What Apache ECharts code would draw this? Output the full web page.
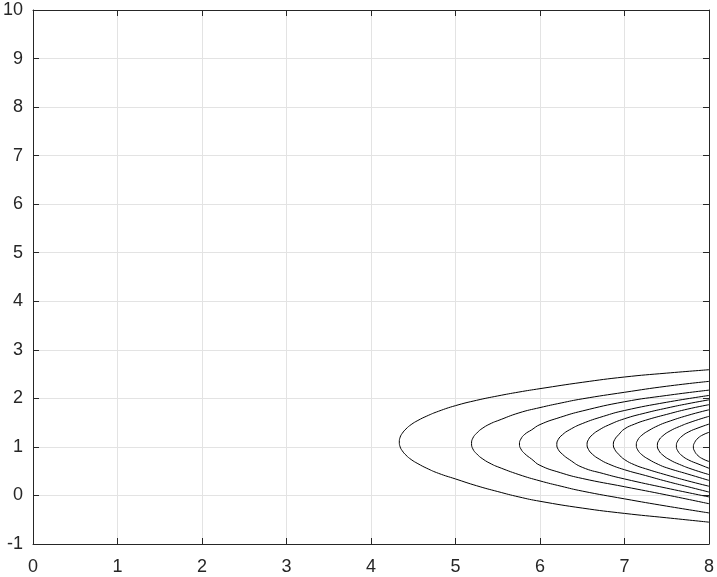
<!DOCTYPE html>
<html>
<head>
<meta charset="utf-8">
<script src="https://cdn.jsdelivr.net/npm/echarts@6/dist/echarts.min.js"></script>
<style>
html,body{margin:0;padding:0;background:#fff;}
#chart{width:717px;height:577px;}
</style>
</head>
<body>
<div id="chart"></div>
<script>
// Axis ranges / ticks
var xTicks = [0, 1, 2, 3, 4, 5, 6, 7, 8];
var yTicks = [-1, 0, 1, 2, 3, 4, 5, 6, 7, 8, 9, 10];

// Contour lines (outer to inner), traced top-right -> vertex -> bottom-right
var contour1 = [[8,2.59],[7.5,2.52],[7,2.44],[6.5,2.33],[6,2.20],[5.75,2.13],[5.5,2.05],[5.25,1.96],[5,1.85],[4.8,1.735],[4.66,1.635],[4.555,1.545],[4.475,1.46],[4.414,1.37],[4.37,1.28],[4.345,1.20],[4.335,1.10],[4.345,1.00],[4.37,0.92],[4.414,0.83],[4.475,0.74],[4.555,0.655],[4.66,0.56],[4.8,0.455],[5,0.34],[5.25,0.20],[5.5,0.08],[5.75,-0.03],[6,-0.12],[6.5,-0.26],[7,-0.37],[7.5,-0.46],[8,-0.55]];
var contour2 = [[8,2.35],[7.5,2.25],[7,2.125],[6.5,1.99],[6.25,1.905],[6,1.81],[5.75,1.70],[5.5,1.54],[5.428,1.49],[5.324,1.39],[5.249,1.28],[5.205,1.18],[5.19,1.07],[5.205,0.96],[5.249,0.86],[5.324,0.75],[5.428,0.645],[5.5,0.59],[5.75,0.43],[6,0.30],[6.25,0.19],[6.5,0.09],[7,-0.07],[7.5,-0.22],[8,-0.36]];
var contour3 = [[8,2.17],[7.5,2.06],[7,1.93],[6.5,1.74],[6.24,1.61],[6,1.46],[5.9,1.35],[5.82,1.26],[5.773,1.16],[5.757,1.06],[5.773,0.96],[5.82,0.86],[5.9,0.75],[6,0.62],[6.24,0.47],[6.5,0.35],[7,0.18],[7.5,0.01],[8,-0.17]];
var contour4 = [[8,2.06],[7.5,1.92],[7,1.75],[6.75,1.63],[6.5,1.48],[6.347,1.35],[6.265,1.25],[6.215,1.15],[6.199,1.05],[6.215,0.95],[6.265,0.85],[6.347,0.74],[6.5,0.58],[6.75,0.45],[7,0.34],[7.5,0.15],[8,-0.03]];
var contour5 = [[8,1.97],[7.75,1.89],[7.5,1.80],[7.25,1.70],[7,1.58],[6.81,1.45],[6.70,1.35],[6.62,1.25],[6.573,1.15],[6.557,1.05],[6.573,0.95],[6.62,0.85],[6.70,0.75],[6.81,0.65],[7,0.53],[7.25,0.41],[7.5,0.29],[7.75,0.18],[8,0.07]];
var contour6 = [[8,1.87],[7.75,1.78],[7.5,1.67],[7.25,1.55],[7.12,1.47],[7,1.37],[6.93,1.25],[6.884,1.15],[6.868,1.05],[6.884,0.95],[6.93,0.85],[7,0.74],[7.12,0.63],[7.25,0.55],[7.5,0.42],[7.75,0.30],[8,0.19]];
var contour7 = [[8,1.765],[7.75,1.65],[7.5,1.51],[7.4,1.44],[7.29,1.34],[7.205,1.24],[7.156,1.14],[7.14,1.04],[7.156,0.94],[7.205,0.84],[7.29,0.74],[7.4,0.64],[7.5,0.57],[7.75,0.44],[8,0.31]];
var contour8 = [[8,1.63],[7.8,1.52],[7.65,1.42],[7.54,1.33],[7.455,1.23],[7.405,1.13],[7.389,1.03],[7.405,0.93],[7.455,0.83],[7.54,0.73],[7.65,0.64],[7.8,0.54],[8,0.43]];
var contour9 = [[8,1.47],[7.87,1.39],[7.76,1.31],[7.68,1.22],[7.63,1.12],[7.614,1.02],[7.63,0.92],[7.68,0.82],[7.76,0.73],[7.87,0.65],[8,0.56]];
var contour10 = [[8,1.30],[7.93,1.25],[7.87,1.18],[7.83,1.09],[7.815,1.0],[7.83,0.91],[7.87,0.82],[7.93,0.75],[8,0.70]];

var contours = [contour1, contour2, contour3, contour4, contour5, contour6, contour7, contour8, contour9, contour10];

var chart = echarts.init(document.getElementById('chart'), null, {renderer: 'canvas'});
var axisColor = '#262626';
var gridColor = '#e3e3e3';
var labelFont = {color: axisColor, fontSize: 18, fontFamily: 'Liberation Sans, Arial, sans-serif'};

var series = contours.map(function (c) {
  return {
    type: 'line',
    data: c,
    xAxisIndex: 0,
    yAxisIndex: 0,
    showSymbol: false,
    symbol: 'none',
    smooth: 0.5,
    lineStyle: {color: '#000', width: 1},
    silent: true,
    z: 3
  };
});

chart.setOption({
  animation: false,
  grid: {left: 33, right: 8, top: 10, bottom: 33, containLabel: false},
  xAxis: [{
    type: 'value', min: xTicks[0], max: xTicks[xTicks.length - 1], interval: 1,
    axisLine: {show: true, onZero: false, lineStyle: {color: axisColor, width: 1}},
    axisTick: {show: true, inside: true, length: 6, lineStyle: {color: axisColor}},
    axisLabel: Object.assign({margin: 14}, labelFont),
    splitLine: {show: true, lineStyle: {color: gridColor, width: 1}}
  }, {
    type: 'value', position: 'top', min: xTicks[0], max: xTicks[xTicks.length - 1], interval: 1,
    axisLine: {show: true, onZero: false, lineStyle: {color: axisColor, width: 1}},
    axisTick: {show: true, inside: true, length: 6, lineStyle: {color: axisColor}},
    axisLabel: {show: false},
    splitLine: {show: false}
  }],
  yAxis: [{
    type: 'value', min: yTicks[0], max: yTicks[yTicks.length - 1], interval: 1,
    axisLine: {show: true, onZero: false, lineStyle: {color: axisColor, width: 1}},
    axisTick: {show: true, inside: true, length: 6, lineStyle: {color: axisColor}},
    axisLabel: Object.assign({margin: 10}, labelFont),
    splitLine: {show: true, lineStyle: {color: gridColor, width: 1}}
  }, {
    type: 'value', position: 'right', min: yTicks[0], max: yTicks[yTicks.length - 1], interval: 1,
    axisLine: {show: true, onZero: false, lineStyle: {color: axisColor, width: 1}},
    axisTick: {show: true, inside: true, length: 6, lineStyle: {color: axisColor}},
    axisLabel: {show: false},
    splitLine: {show: false}
  }],
  series: series
});
</script>
</body>
</html>
